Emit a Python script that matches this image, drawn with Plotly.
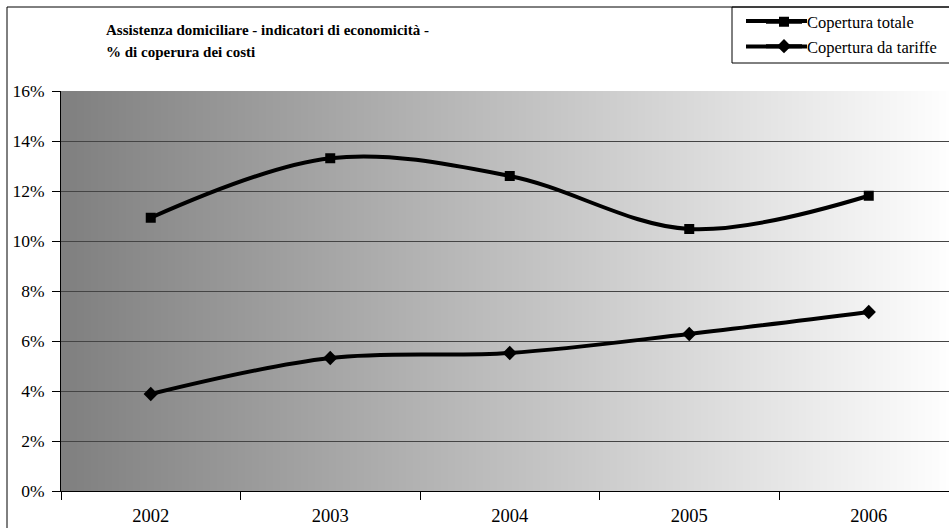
import base64
import struct
import zlib

import plotly.graph_objects as go

# ---- data ----
years = ["2002", "2003", "2004", "2005", "2006"]
copertura_totale = [10.93, 13.31, 12.6, 10.48, 11.81]
copertura_tariffe = [3.88, 5.32, 5.52, 6.28, 7.16]
y_ticks = [0, 2, 4, 6, 8, 10, 12, 14, 16]
y_tick_labels = [f"{v}%" for v in y_ticks]

title_lines = ["Assistenza domiciliare - indicatori di economicità -", "% di coperura dei costi"]
FONT = "Liberation Serif"

# figure geometry (pixels)
W, H = 949, 528
L, T, B = 61, 91, 37
PW = W - L
PH = H - T - B


def px_x(px):
    return (px - L) / PW


def px_y(py):
    return (H - B - py) / PH


def gradient_png(width, start, end):
    row = bytes([0] + [round(start + (end - start) * i / (width - 1)) for i in range(width)])
    raw = zlib.compress(row)

    def chunk(tag, data):
        return (struct.pack(">I", len(data)) + tag + data
                + struct.pack(">I", zlib.crc32(tag + data) & 0xFFFFFFFF))

    png = (b"\x89PNG\r\n\x1a\n"
           + chunk(b"IHDR", struct.pack(">IIBBBBB", width, 1, 8, 0, 0, 0, 0))
           + chunk(b"IDAT", raw)
           + chunk(b"IEND", b""))
    return "data:image/png;base64," + base64.b64encode(png).decode()


fig = go.Figure()

fig.add_trace(go.Scatter(
    x=years, y=copertura_totale, name="Copertura totale",
    mode="lines+markers", line=dict(color="black", width=4, shape="spline", smoothing=1),
    marker=dict(symbol="square", size=10, color="black"),
    legendgroup="a",
))
fig.add_trace(go.Scatter(
    x=years, y=copertura_tariffe, name="Copertura da tariffe",
    mode="lines+markers", line=dict(color="black", width=4, shape="spline", smoothing=1),
    marker=dict(symbol="diamond", size=11, color="black"),
    legendgroup="b",
))

# gradient background of the plot area
fig.add_layout_image(dict(
    source=gradient_png(256, 128, 255), xref="x", yref="y",
    x=-0.5, y=16, sizex=5, sizey=16, xanchor="left", yanchor="top",
    sizing="stretch", layer="below",
))

LEG_ROWS = [21, 46.5]
shapes = [
    # outer chart border (left and top)
    dict(type="line", xref="paper", yref="paper", x0=px_x(7), x1=px_x(7), y0=px_y(7), y1=px_y(560),
         line=dict(color="black", width=1)),
    dict(type="line", xref="paper", yref="paper", x0=px_x(7), x1=px_x(980), y0=px_y(7), y1=px_y(7),
         line=dict(color="black", width=1)),
    # legend box
    dict(type="rect", xref="paper", yref="paper", x0=px_x(732), x1=px_x(980), y0=px_y(63), y1=px_y(7),
         line=dict(color="black", width=1)),
]
# legend key lines (longer than plotly's default key)
for ry in LEG_ROWS:
    shapes.append(dict(type="line", xref="paper", yref="paper", x0=px_x(746), x1=px_x(807),
                       y0=px_y(ry), y1=px_y(ry), line=dict(color="black", width=4)))
fig.update_layout(shapes=shapes)

for txt, ly in zip(title_lines, [30, 52]):
    fig.add_annotation(
        text=f"<b>{txt}</b>", xref="paper", yref="paper", x=px_x(104), y=px_y(ly),
        xanchor="left", yanchor="middle", align="left", showarrow=False,
        font=dict(family=FONT, size=15, color="black"),
    )

fig.update_layout(
    width=W, height=H,
    margin=dict(l=L, r=0, t=T, b=B, pad=0),
    paper_bgcolor="white", plot_bgcolor="white",
    font=dict(family=FONT, color="black"),
    showlegend=True,
    legend=dict(
        x=px_x(762 - 1), y=px_y(4.5), xanchor="left", yanchor="top",
        bgcolor="rgba(0,0,0,0)", borderwidth=0, itemwidth=36,
        font=dict(family=FONT, size=16.5, color="black"),
        traceorder="grouped", tracegroupgap=0,
    ),
    xaxis=dict(
        type="category", range=[-0.5, (W - L) / ((869 - 151) / 4) - 0.5],
        showgrid=False, showline=True, linecolor="black", linewidth=1,
        ticks="outside", tickson="boundaries", ticklen=8, tickcolor="black",
        ticklabelstandoff=8,
        tickfont=dict(family=FONT, size=18.5, color="black"),
        zeroline=False, fixedrange=True,
    ),
    yaxis=dict(
        range=[0, 16], tickmode="array", tickvals=y_ticks, ticktext=y_tick_labels,
        showgrid=True, gridcolor="#444444", gridwidth=1,
        showline=True, linecolor="black", linewidth=1,
        ticks="outside", ticklen=8, tickcolor="black", ticklabelstandoff=4,
        tickfont=dict(family=FONT, size=17.5, color="black"),
        zeroline=False, fixedrange=True,
    ),
)

fig.write_html(
    "out.html",
    config={"displayModeBar": False, "staticPlot": True},
    post_script="document.body.style.margin='0';document.body.style.overflow='hidden';",
)
